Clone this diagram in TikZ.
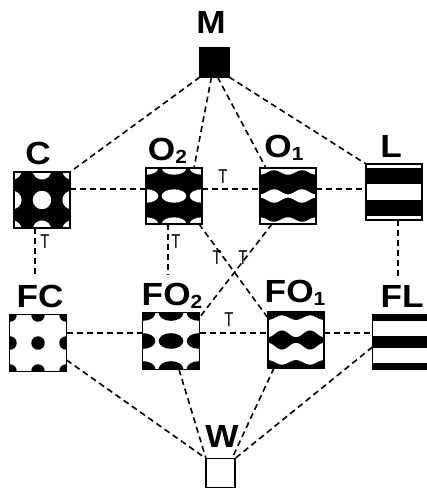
\documentclass[tikz,border=0pt]{standalone}
\usepackage{fontspec}
\setmainfont{Liberation Sans}
\newfontfamily\labfont[FakeStretch=1.1]{Liberation Sans}
\newfontfamily\tfont[FakeStretch=0.75]{Liberation Sans}
\newcommand\lsub[1]{\raisebox{-3pt}{\fontsize{19}{19}\selectfont #1}}

% square lattice of discs/ellipses: bg, fg, x radius, y radius, period
\newcommand\dotlattice[5]{%
  \fill[#1] (-1,-1) rectangle (1,1);
  \foreach \i in {-1,0,1}{\foreach \j in {-1,0,1}{%
    \fill[#2] (\i*#5,\j*#5) ellipse [x radius=#3, y radius=#4];}}}

% horizontal strip with modulated width: colour, centre y, mean half-width, swing, phase
\newcommand\wavystrip[5]{%
  \fill[#1] plot[domain=-0.6:0.6,samples=61,smooth] (\x,{#2+#3+(#4)*cos(720*(\x)+#5)})
    -- plot[domain=0.6:-0.6,samples=61,smooth] (\x,{#2-#3-(#4)*cos(720*(\x)+#5)}) -- cycle;}

\tikzset{
  unitsq/.style={shift={(path picture bounding box.center)},x=56pt,y=56pt},
  sq/.style={draw,line width=1.1pt,minimum size=56pt,inner sep=0pt,outer sep=0pt},
  patC/.style={path picture={\begin{scope}[unitsq]\dotlattice{black}{white}{0.165}{0.165}{0.53}\end{scope}}},
  patFC/.style={path picture={\begin{scope}[unitsq]\dotlattice{white}{black}{0.12}{0.12}{0.5}\end{scope}}},
  patOtwo/.style={path picture={\begin{scope}[unitsq]\dotlattice{black}{white}{0.22}{0.12}{0.5}\end{scope}}},
  patFOtwo/.style={path picture={\begin{scope}[unitsq]\dotlattice{white}{black}{0.22}{0.14}{0.5}\end{scope}}},
  patOone/.style={path picture={\begin{scope}[unitsq]
      \fill[black] (-1,-1) rectangle (1,1);
      \wavystrip{white}{0}{0.075}{-0.045}{0}
      \wavystrip{white}{0.5}{0.08}{0.04}{0}
      \wavystrip{white}{-0.5}{0.08}{0.04}{0}\end{scope}}},
  patFOone/.style={path picture={\begin{scope}[unitsq]
      \fill[white] (-1,-1) rectangle (1,1);
      \wavystrip{black}{0}{0.11}{-0.06}{0}
      \wavystrip{black}{0.5}{0.1}{0.04}{0}
      \wavystrip{black}{-0.5}{0.1}{0.04}{0}\end{scope}}},
  patL/.style={path picture={\begin{scope}[unitsq]
      \fill[white] (-1,-1) rectangle (1,1);
      \fill[black] (-1,0.14) rectangle (1,0.42);
      \fill[black] (-1,-0.42) rectangle (1,-0.14);\end{scope}}},
  patFL/.style={path picture={\begin{scope}[unitsq]
      \fill[white] (-1,-1) rectangle (1,1);
      \fill[black] (-1,-0.1) rectangle (1,0.1);
      \fill[black] (-1,0.38) rectangle (1,1);
      \fill[black] (-1,-1) rectangle (1,-0.38);\end{scope}}},
  lab/.style={font=\labfont\bfseries\fontsize{32}{32}\selectfont,inner sep=0pt,anchor=base},
  tl/.style={font=\tfont\fontsize{20}{20}\selectfont,inner sep=0pt},
  link/.style={line width=1.6pt,dash pattern=on 6pt off 4pt},
}

\begin{document}
\begin{tikzpicture}[x=1pt,y=-1pt]
\useasboundingbox (0,0) rectangle (427,491);
\fill[white] (0,0) rectangle (427,491);

% phase squares
\node[sq,fill=black,minimum size=29pt] (M) at (214.5,62.5) {};
\node[sq,patC] (C) at (42,200) {};
\node[sq,patOtwo] (O2) at (174,196) {};
\node[sq,patOone] (O1) at (288,196) {};
\node[sq,patL] (L) at (394,192) {};
\node[sq,patFC,minimum size=57pt] (FC) at (38,343) {};
\node[sq,patFOtwo,minimum size=57pt] (FO2) at (171,341) {};
\node[sq,patFOone] (FO1) at (296,340) {};
\node[sq,patFL,minimum size=55pt] (FL) at (400,342) {};
\node[sq,fill=white,minimum size=29pt] (W) at (220.5,473) {};

% phase names
\node[lab] (lM) at (211,33) {M};
\node[lab] (lC) at (38,164) {C};
\node[lab] (lO2) at (167.5,160) {O\lsub{2}};
\node[lab] (lO1) at (284,157) {O\lsub{1}};
\node[lab] (lL) at (391,157) {L};
\node[lab] (lFC) at (40,307) {FC};
\node[lab] (lFO2) at (172,305) {FO\lsub{2}};
\node[lab] (lFO1) at (295,302) {FO\lsub{1}};
\node[lab] (lFL) at (402,307) {FL};
\node[lab] (lW) at (222,447) {W};

% transition marks
\node[tl] (tCFC) at (45,242) {T};
\node[tl] (tOO) at (223,177) {T};
\node[tl] (tOFO) at (176,242) {T};
\node[tl] (tXa) at (217,258) {T};
\node[tl] (tXb) at (243,258) {T};
\node[tl] (tFOFO) at (229,320) {T};

% links from M
\draw[link] (M.south west) -- (C.north east);
\draw[link] ([xshift=-3pt]M.south) -- ([xshift=20pt]O2.north);
\draw[link] ([xshift=3pt]M.south) -- ([xshift=-22pt]O1.north);
\draw[link] (M.south east) -- (L.north west);

% upper row
\draw[link] ([yshift=11pt]C.east) -- ([yshift=7pt]O2.west);
\draw[link] ([yshift=7pt]O2.east) -- ([yshift=7pt]O1.west);
\draw[link] ([yshift=7pt]O1.east) -- ([yshift=3pt]L.west);

% between rows
\draw[link,shorten >=8pt] ([xshift=-7pt]C.south) -- ([xshift=-5pt]lFC.north);
\draw[link,shorten >=8pt] ([xshift=-6pt]O2.south) -- ([xshift=-4pt]lFO2.north);
\draw[link,shorten >=8pt] ([xshift=4pt]L.south) -- ([xshift=-4pt]lFL.north);
\draw[link] ([xshift=-3pt]O2.south east) -- ([yshift=-6pt]FO1.north west);
\draw[link] ([xshift=12pt]O1.south west) -- ([yshift=-5pt]FO2.north east);

% lower row
\draw[link] ([yshift=10pt]FC.east) -- ([yshift=8pt]FO2.west);
\draw[link] ([yshift=8pt]FO2.east) -- ([yshift=7pt]FO1.west);
\draw[link] ([yshift=7pt]FO1.east) -- ([yshift=9pt]FL.west);

% links to W
\draw[link] ([yshift=-17pt]FC.east) -- (W.north west);
\draw[link] ([xshift=8pt]FO2.south) -- (W.north west);
\draw[link] ([xshift=6pt]FO1.south west) -- ([xshift=-3pt]W.north east);
\draw[link] ([yshift=-5pt]FL.west) -- (W.north east);
\end{tikzpicture}
\end{document}
